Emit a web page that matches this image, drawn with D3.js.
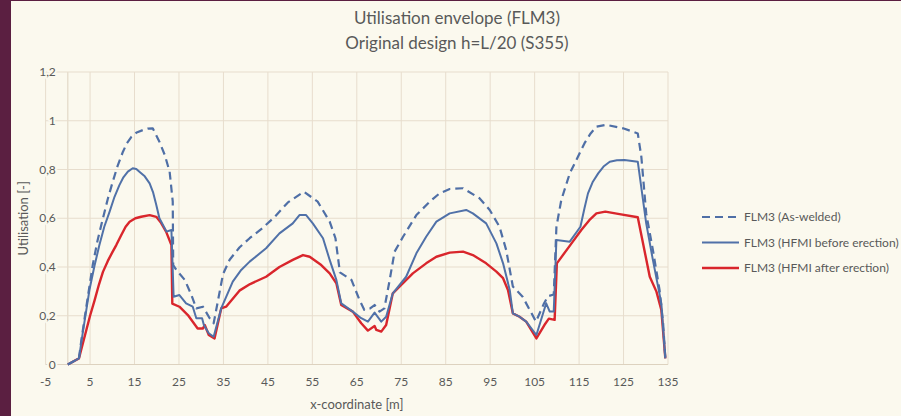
<!DOCTYPE html>
<html>
<head>
<meta charset="utf-8">
<script src="https://cdn.jsdelivr.net/npm/d3@7"></script>
<style>
  html, body { margin: 0; padding: 0; background: #5b1f41; }
  svg { display: block; }
  text { font-family: Lato, "Open Sans", sans-serif; fill: #595959; }
</style>
</head>
<body>
<svg id="chart" width="901" height="416"></svg>
<script>
// x-coordinate [m] / utilisation
const asWelded = [
    [0, 0], [2.5, 0.025], [3, 0.094], [4.1, 0.23], [5.6, 0.408], [6.7, 0.51], [7.9, 0.6],
    [9, 0.68], [10.1, 0.75], [11.2, 0.815], [12.4, 0.873], [13.3, 0.908], [14.3, 0.934],
    [15.5, 0.952], [16.9, 0.962], [18, 0.968], [19.1, 0.969], [20.6, 0.914], [21.8, 0.86],
    [22.9, 0.791], [23.6, 0.668], [23.7, 0.408], [24.4, 0.388], [26.3, 0.347], [27.8, 0.285],
    [28.9, 0.23], [30.4, 0.237], [31.9, 0.19], [32.8, 0.169], [34.9, 0.37], [36.4, 0.43],
    [38.6, 0.48], [40.9, 0.518], [43.5, 0.555], [46.5, 0.605], [49.5, 0.665], [53.1, 0.709],
    [56.2, 0.668], [58.9, 0.586], [60.2, 0.518], [61.2, 0.378], [63.8, 0.347], [65.6, 0.265],
    [66.7, 0.224], [68, 0.23], [69, 0.244], [70.1, 0.217], [71.2, 0.23], [72.4, 0.347],
    [73.5, 0.463], [75.4, 0.524], [78.4, 0.613], [81.4, 0.668], [83.6, 0.702], [85.9, 0.72],
    [88.9, 0.723], [92.6, 0.682], [94.9, 0.634], [97.1, 0.565], [98.6, 0.47], [100.1, 0.32],
    [102.3, 0.278], [103.9, 0.224], [105.3, 0.176], [107.1, 0.25], [108, 0.28], [109.3, 0.287],
    [109.9, 0.565], [111, 0.675], [112.9, 0.784], [114, 0.825], [116.2, 0.907], [117.6, 0.948],
    [118.9, 0.976], [121.1, 0.983], [124.9, 0.969], [128.2, 0.948], [129, 0.853], [130.1, 0.62],
    [131.6, 0.47], [133.1, 0.306], [133.9, 0.169], [134.4, 0.025]
];

const hfmiBefore = [
    [0, 0], [2.5, 0.025], [3.4, 0.135], [4.9, 0.31], [6, 0.405], [7.1, 0.49], [8.2, 0.565],
    [9.4, 0.627], [10.5, 0.688], [11.6, 0.736], [12.5, 0.768], [13.5, 0.791], [14.6, 0.805],
    [15.4, 0.802], [16.1, 0.791], [17.3, 0.772], [18.4, 0.743], [19.2, 0.705], [19.9, 0.654],
    [20.6, 0.6], [22.2, 0.545], [23.3, 0.552], [23.8, 0.278], [25.1, 0.285], [26.6, 0.251],
    [28.1, 0.237], [28.9, 0.19], [30.2, 0.19], [30.6, 0.162], [31.7, 0.128], [32.8, 0.114],
    [34.5, 0.23], [37.1, 0.34], [39, 0.388], [40.9, 0.422], [44.6, 0.477], [47.6, 0.538],
    [50.6, 0.579], [52.1, 0.613], [53.6, 0.613], [55.1, 0.579], [57.4, 0.518], [58.9, 0.429],
    [60.4, 0.347], [61.5, 0.251], [64.1, 0.217], [66, 0.19], [67.5, 0.176], [69, 0.213],
    [70.5, 0.176], [71.6, 0.196], [73.1, 0.292], [76.1, 0.36], [78.4, 0.456], [80.6, 0.524],
    [82.9, 0.586], [85.9, 0.62], [89.6, 0.634], [91.1, 0.62], [94.1, 0.579], [96.4, 0.497],
    [97.9, 0.415], [99.4, 0.306], [100.1, 0.21], [101.6, 0.196], [103.1, 0.176], [105.4, 0.121],
    [107.6, 0.251], [108.4, 0.217], [109.3, 0.217], [109.9, 0.511], [112.9, 0.504], [115.3, 0.565],
    [116.2, 0.64], [117, 0.702], [118.1, 0.75], [119.3, 0.784], [120.5, 0.812], [121.9, 0.832],
    [123.5, 0.838], [125.2, 0.839], [128.2, 0.832], [130.1, 0.579], [131.6, 0.429], [133.5, 0.251],
    [134.4, 0.025]
];

const hfmiAfter = [
    [0, 0], [2.5, 0.025], [5, 0.2], [6, 0.262], [7, 0.328], [7.9, 0.38], [9, 0.425], [10, 0.46],
    [10.9, 0.49], [12, 0.53], [13, 0.565], [13.9, 0.586], [15.2, 0.6], [16.5, 0.606],
    [18.4, 0.613], [19.9, 0.606], [21, 0.58], [22.1, 0.545], [23.3, 0.49], [23.5, 0.25],
    [25.1, 0.237], [27, 0.203], [29.2, 0.148], [30.4, 0.148], [30.8, 0.162], [31.7, 0.121],
    [33, 0.107], [34.5, 0.23], [35.6, 0.237], [38.6, 0.303], [41, 0.33], [44.6, 0.36],
    [47.6, 0.4], [50.6, 0.429], [52.9, 0.449], [54.4, 0.442], [57, 0.408], [58.9, 0.374],
    [60.4, 0.333], [61.5, 0.244], [64.1, 0.217], [66, 0.169], [67.5, 0.139], [69, 0.158],
    [69.4, 0.142], [70.5, 0.135], [71.6, 0.162], [73.1, 0.292], [74.6, 0.319], [77.6, 0.374],
    [80.6, 0.415], [82.9, 0.442], [85.9, 0.459], [88.9, 0.463], [91.1, 0.449], [94.1, 0.415],
    [96.4, 0.381], [97.9, 0.354], [99, 0.306], [100.1, 0.21], [101.6, 0.196], [103.1, 0.176],
    [105.4, 0.107], [107.2, 0.162], [108.2, 0.188], [109.5, 0.183], [110, 0.415], [113.3, 0.497],
    [115.5, 0.552], [117.3, 0.592], [118.9, 0.62], [120.9, 0.627], [124.1, 0.617], [128.2, 0.604],
    [130.9, 0.36], [132.4, 0.299], [133.5, 0.224], [134.4, 0.025]
];

const seriesNames = ["FLM3 (As-welded)", "FLM3 (HFMI before erection)", "FLM3 (HFMI after erection)"];
const xTicks = d3.range(-5, 136, 10);
const yTicks = [0, 0.2, 0.4, 0.6, 0.8, 1, 1.2];
const titleLines = ["Utilisation envelope (FLM3)", "Original design h=L/20 (S355)"];

const svg = d3.select("#chart");

// cream panel inside the dark frame
svg.append("rect").attr("x", 11).attr("y", 1).attr("width", 890).attr("height", 415).attr("fill", "#fbf9ee");

const x = d3.scaleLinear().domain([-5, 135]).range([45.6, 668]);
const y = d3.scaleLinear().domain([0, 1.2]).range([364.5, 72]);

const grid = "#e7ddcd";

// vertical gridlines (ticks plus the axis at x = 0)
svg.append("g").selectAll("line")
    .data(xTicks.concat([0]))
    .join("line")
    .attr("x1", d => x(d)).attr("x2", d => x(d))
    .attr("y1", y(1.2)).attr("y2", y(0))
    .attr("stroke", d => d === 0 ? "#ddd2bf" : grid)
    .attr("stroke-width", 1);

svg.append("g").selectAll("line")
    .data(yTicks)
    .join("line")
    .attr("x1", x(-5)).attr("x2", x(135))
    .attr("y1", d => y(d)).attr("y2", d => y(d))
    .attr("stroke", d => d === 0 ? "#ddd2bf" : grid)
    .attr("stroke-width", 1);

// y labels sit next to the axis at x = 0 and cover the gridlines
svg.append("g").selectAll("text")
    .data(yTicks)
    .join("text")
    .attr("x", x(0) - 12)
    .attr("y", d => y(d))
    .attr("dy", "0.35em")
    .attr("text-anchor", "end")
    .attr("font-size", 12)
    .attr("stroke", "#fbf9ee").attr("stroke-width", 4).attr("paint-order", "stroke")
    .text(d => String(d).replace(".", ","));

svg.append("g").selectAll("text")
    .data(xTicks)
    .join("text")
    .attr("x", d => x(d))
    .attr("y", y(0) + 17)
    .attr("dy", "0.35em")
    .attr("text-anchor", "middle")
    .attr("font-size", 12)
    .text(d => d);

svg.append("text")
    .attr("x", (x(-5) + x(135)) / 2)
    .attr("y", 404)
    .attr("dy", "0.35em")
    .attr("text-anchor", "middle")
    .attr("font-size", 13)
    .text("x-coordinate [m]");

svg.append("text")
    .attr("transform", `translate(23,${(y(0) + y(1.2)) / 2}) rotate(-90)`)
    .attr("dy", "0.35em")
    .attr("text-anchor", "middle")
    .attr("font-size", 13)
    .text("Utilisation [-]");

svg.append("g").selectAll("text")
    .data(titleLines)
    .join("text")
    .attr("x", 457)
    .attr("y", (d, i) => 18 + i * 25)
    .attr("dy", "0.35em")
    .attr("text-anchor", "middle")
    .attr("font-size", 17)
    .text(d => d);

const line = d3.line().x(d => x(d[0])).y(d => y(d[1]));

const styles = [
    {color: "#4f6fa6", width: 2.2, dash: "8,5"},
    {color: "#5071a8", width: 2, dash: null},
    {color: "#d9262c", width: 2.4, dash: null}
];
const allSeries = [asWelded, hfmiBefore, hfmiAfter];

// draw red first so blue sits on top like in the original
[2, 1, 0].forEach(i => {
    svg.append("path")
        .datum(allSeries[i])
        .attr("d", line)
        .attr("fill", "none")
        .attr("stroke", styles[i].color)
        .attr("stroke-width", styles[i].width)
        .attr("stroke-dasharray", styles[i].dash)
        .attr("stroke-linejoin", "round");
});

const legend = svg.append("g").selectAll("g")
    .data(seriesNames)
    .join("g")
    .attr("transform", (d, i) => `translate(702,${217 + i * 25.5})`);

legend.append("line")
    .attr("x1", 0).attr("x2", 37)
    .attr("stroke", (d, i) => styles[i].color)
    .attr("stroke-width", (d, i) => styles[i].width)
    .attr("stroke-dasharray", (d, i) => styles[i].dash);

legend.append("text")
    .attr("x", 42)
    .attr("dy", "0.35em")
    .attr("font-size", 12)
    .text(d => d);
</script>
</body>
</html>
